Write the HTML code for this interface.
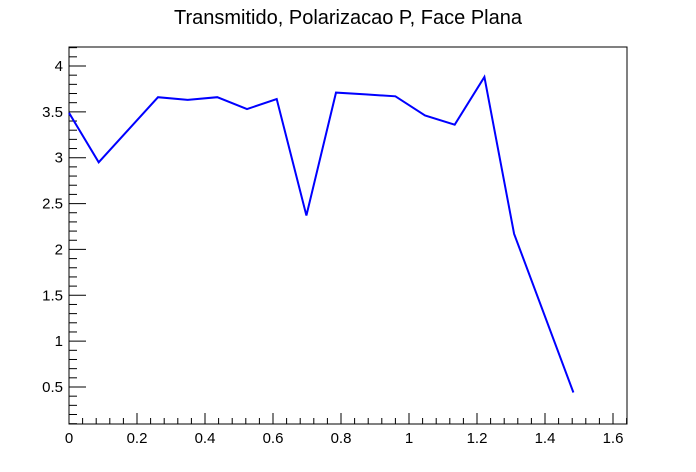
<!DOCTYPE html>
<html><head><meta charset="utf-8"><style>
html,body{margin:0;padding:0;background:#fff;}
svg{display:block;font-family:"Liberation Sans",sans-serif;}
</style></head><body>
<svg id="chart" width="696" height="472" xmlns="http://www.w3.org/2000/svg">
<rect width="696" height="472" fill="#fff"/>
<text x="348" y="24" text-anchor="middle" font-size="20" fill="#000">Transmitido, Polarizacao P, Face Plana</text>
<rect x="69" y="47" width="558" height="377" fill="none" stroke="#000" stroke-width="1"/>
<g id="axes"></g>
<polyline id="series" fill="none" stroke="#0000ff" stroke-width="2"/>
</svg>
<script>
const xValues = [0, 0.0873, 0.2618, 0.3491, 0.4363, 0.5236, 0.6109, 0.6981, 0.7854, 0.8727, 0.9599, 1.0472, 1.1345, 1.2217, 1.3090, 1.4835];
const yValues = [3.49, 2.95, 3.66, 3.63, 3.66, 3.53, 3.64, 2.37, 3.71, 3.69, 3.67, 3.46, 3.36, 3.88, 2.17, 0.44];
const xTicks = [0, 0.2, 0.4, 0.6, 0.8, 1, 1.2, 1.4, 1.6];
const xTickLabels = ["0", "0.2", "0.4", "0.6", "0.8", "1", "1.2", "1.4", "1.6"];
const yTicks = [0.5, 1, 1.5, 2, 2.5, 3, 3.5, 4];
const yTickLabels = ["0.5", "1", "1.5", "2", "2.5", "3", "3.5", "4"];

const L = 69, R = 627, T = 47, B = 424;
const xMin = 0, xMax = (R - L) / 340;
const yMin = 0.5 - 37 / 91.7, yMax = 4 + 19 / 91.7;
function sx(v) { return L + (v - xMin) / (xMax - xMin) * (R - L); }
function sy(v) { return B - (v - yMin) / (yMax - yMin) * (B - T); }

const NS = "http://www.w3.org/2000/svg";
const g = document.getElementById('axes');
function line(x1, y1, x2, y2, name) {
  const l = document.createElementNS(NS, 'line');
  l.setAttribute('x1', x1); l.setAttribute('y1', y1);
  l.setAttribute('x2', x2); l.setAttribute('y2', y2);
  l.setAttribute('stroke', '#000'); l.setAttribute('stroke-width', '1');
  
  
  g.appendChild(l);
}
function label(x, y, s, anchor, name) {
  const t = document.createElementNS(NS, 'text');
  t.setAttribute('x', x); t.setAttribute('y', y);
  t.setAttribute('text-anchor', anchor); t.setAttribute('font-size', '15');
  t.textContent = s;
  
  
  g.appendChild(t);
}
for (let v = 0; v <= xMax + 1e-9; v += 0.04) {
  const major = Math.abs(v / 0.2 - Math.round(v / 0.2)) < 1e-6;
  line(sx(v), B, sx(v), B - (major ? 11 : 6), major ? 'x-major-tick' : 'x-minor-tick');
}
xTicks.forEach((v, i) => label(sx(v), B + 19, xTickLabels[i], 'middle', 'x-tick-label'));
for (let k = 1; k * 0.1 <= yMax + 1e-9; k++) {
  const v = k * 0.1;
  const major = k % 5 === 0;
  line(L, sy(v), L + (major ? 17 : 8), sy(v), major ? 'y-major-tick' : 'y-minor-tick');
}
yTicks.forEach((v, i) => label(L - 6, sy(v) + 5, yTickLabels[i], 'end', 'y-tick-label'));

document.getElementById('series').setAttribute('points',
  xValues.map((x, i) => sx(x).toFixed(1) + ',' + sy(yValues[i]).toFixed(1)).join(' '));
</script>
</body></html>
